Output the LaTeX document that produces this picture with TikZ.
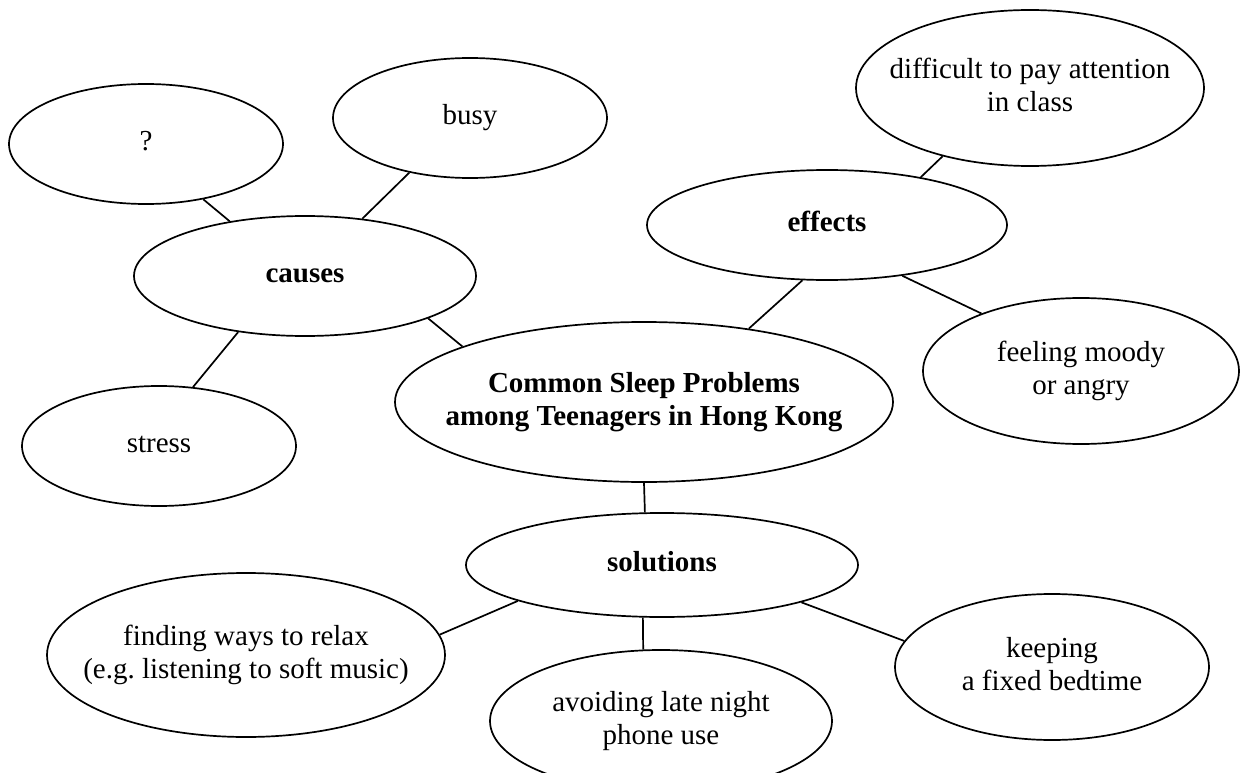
\documentclass[tikz,border=0pt]{standalone}
\usepackage{fontspec}
\setmainfont{Liberation Serif}
\usetikzlibrary{shapes.geometric}
\tikzset{bubble/.style 2 args={draw,ellipse,line width=1.7pt,inner sep=0pt,minimum width=#1,minimum height=#2},
         link/.style={line width=1.7pt}
}
\newcommand{\bubtext}[1]{\makebox[0pt]{\begin{tabular}{@{}c@{}}#1\end{tabular}}}
\frenchspacing

\begin{document}
\begin{tikzpicture}[x=1pt,y=-1pt,font=\fontsize{29}{33}\selectfont]
\useasboundingbox (0,0) rectangle (1240,773);

\node[bubble={274pt}{120pt}] (unknown) at (146,144) {\bubtext{?}};
\node[bubble={274pt}{120pt}] (busy) at (470,118) {\bubtext{busy}};
\node[bubble={342pt}{120pt}] (causes) at (305,276) {\bubtext{\textbf{causes}}};
\node[bubble={274pt}{120pt}] (stress) at (159,446) {\bubtext{stress}};
\node[bubble={498pt}{160pt}] (topic) at (644,402) {\bubtext{\textbf{Common Sleep Problems}\\\textbf{among Teenagers in Hong Kong}}};
\node[bubble={360pt}{110pt}] (effects) at (827,225) {\bubtext{\textbf{effects}}};
\node[bubble={348pt}{156pt}] (attention) at (1030,88) {\bubtext{difficult to pay attention\\in class}};
\node[bubble={316pt}{146pt}] (moody) at (1081,371) {\bubtext{feeling moody\\or angry}};
\node[bubble={392pt}{104pt}] (solutions) at (662,565) {\bubtext{\textbf{solutions}}};
\node[bubble={398pt}{164pt}] (relax) at (246,655) {\bubtext{finding ways to relax\\(e.g. listening to soft music)}};
\node[bubble={342pt}{142pt}] (phone) at (661,721) {\bubtext{avoiding late night\\phone use}};
\node[bubble={314pt}{146pt}] (bedtime) at (1052,667) {\bubtext{keeping\\a fixed bedtime}};

\draw[link] (unknown.-44.5) -- (causes.144.5);
\draw[link] (busy.-138.5) -- (causes.45);
\draw[link] (stress.60.8) -- (causes.-140.9);
\draw[link] (causes.-19.9) -- (topic.163.5);
\draw[link] (effects.-114.4) -- (topic.35);
\draw[link] (effects.27.8) -- (attention.-142.3);
\draw[link] (effects.-34.6) -- (moody.150);
\draw[link] (topic.-90) -- (solutions.108);
\draw[link] (solutions.-110.4) -- (phone.104);
\draw[link] (solutions.-166) -- (relax.6.5);
\draw[link] (solutions.-15.5) -- (bedtime.170.9);

\end{tikzpicture}
\end{document}
